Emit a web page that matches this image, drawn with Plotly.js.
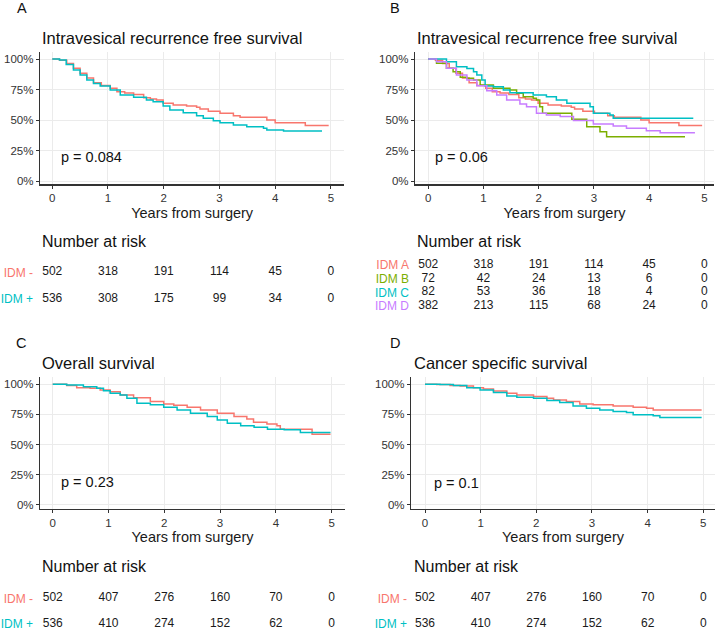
<!DOCTYPE html>
<html><head><meta charset="utf-8">
<script src="https://cdn.plot.ly/plotly-3.0.1.min.js"></script>
<style>html,body{margin:0;padding:0;background:#fff}</style>
</head><body><div id="chart" style="width:720px;height:631px"></div>
<script>
// ---------------- data ----------------
const riskTimes = [0, 1, 2, 3, 4, 5];
const twoGroups = ["IDM -", "IDM +"];
const fourGroups = ["IDM A", "IDM B", "IDM C", "IDM D"];
const panelTitles = ["Intravesical recurrence free survival", "Intravesical recurrence free survival", "Overall survival", "Cancer specific survival"];
const panelLetters = ["A", "B", "C", "D"];
const pValues = ["p = 0.084", "p = 0.06", "p = 0.23", "p = 0.1"];
const xTicks = [0, 1, 2, 3, 4, 5];
const yTicks = [0, 0.25, 0.5, 0.75, 1];
const yTickText = ["0%", "25%", "50%", "75%", "100%"];

// Panel A: intravesical recurrence free survival, IDM - / IDM +
const irfsNegT = [0, 0.13, 0.26, 0.38, 0.5, 0.62, 0.74, 0.88, 1.04, 1.16, 1.3, 1.46, 1.64, 1.76, 1.87, 1.99, 2.17, 2.41, 2.59, 2.65, 2.8, 3.01, 3.25, 3.37, 3.85, 4.0, 4.54, 4.96];
const irfsNegS = [1, 0.99, 0.964, 0.925, 0.883, 0.845, 0.806, 0.782, 0.76, 0.732, 0.722, 0.71, 0.683, 0.672, 0.664, 0.637, 0.623, 0.615, 0.604, 0.59, 0.572, 0.555, 0.535, 0.522, 0.5, 0.478, 0.456, 0.456];
const irfsPosT = [0, 0.13, 0.25, 0.38, 0.5, 0.62, 0.74, 0.86, 1.04, 1.22, 1.46, 1.69, 1.81, 1.99, 2.11, 2.35, 2.59, 2.71, 2.89, 3.01, 3.25, 3.49, 3.79, 3.85, 4.15, 4.84];
const irfsPosS = [1, 0.992, 0.955, 0.91, 0.87, 0.828, 0.8, 0.779, 0.746, 0.705, 0.686, 0.664, 0.65, 0.615, 0.582, 0.56, 0.535, 0.514, 0.494, 0.478, 0.459, 0.445, 0.432, 0.418, 0.41, 0.41];
const riskA_neg = [502, 318, 191, 114, 45, 0];
const riskA_pos = [536, 308, 175, 99, 34, 0];

// Panel B: IDM A (same as IDM -), B, C, D
const irfsBT = [0, 0.15, 0.33, 0.45, 0.58, 0.7, 0.82, 0.94, 1.18, 1.48, 1.6, 1.72, 1.9, 1.96, 2.02, 2.07, 2.6, 2.87, 3.11, 3.23, 4.65];
const irfsBS = [1, 0.965, 0.924, 0.896, 0.85, 0.842, 0.828, 0.787, 0.76, 0.746, 0.719, 0.691, 0.678, 0.664, 0.609, 0.555, 0.506, 0.445, 0.404, 0.363, 0.363];
const irfsCT = [0, 0.21, 0.33, 0.51, 0.7, 0.82, 0.88, 0.97, 1.03, 1.18, 1.36, 1.48, 1.9, 2.14, 2.32, 2.51, 2.93, 2.99, 3.29, 3.35, 4.8];
const irfsCS = [1, 1, 0.978, 0.937, 0.923, 0.896, 0.869, 0.828, 0.779, 0.773, 0.746, 0.724, 0.705, 0.691, 0.664, 0.637, 0.609, 0.555, 0.542, 0.514, 0.514];
const irfsDT = [0, 0.15, 0.33, 0.51, 0.7, 0.88, 1.06, 1.24, 1.42, 1.66, 1.78, 1.96, 2.14, 2.39, 2.63, 2.99, 3.35, 3.59, 3.95, 4.2, 4.83];
const irfsDS = [1, 0.978, 0.924, 0.869, 0.828, 0.78, 0.74, 0.705, 0.664, 0.631, 0.609, 0.555, 0.542, 0.528, 0.495, 0.467, 0.451, 0.432, 0.413, 0.396, 0.396];
const riskB_A = [502, 318, 191, 114, 45, 0];
const riskB_B = [72, 42, 24, 13, 6, 0];
const riskB_C = [82, 53, 36, 18, 4, 0];
const riskB_D = [382, 213, 115, 68, 24, 0];

// Panel C: overall survival
const osNegT = [0, 0.25, 0.43, 0.67, 0.85, 1.03, 1.21, 1.45, 1.75, 1.99, 2.17, 2.41, 2.65, 2.95, 3.25, 3.48, 3.6, 3.84, 4.02, 4.08, 4.65, 4.98];
const osNegS = [1, 0.989, 0.972, 0.967, 0.953, 0.939, 0.911, 0.889, 0.856, 0.837, 0.826, 0.809, 0.787, 0.76, 0.732, 0.712, 0.685, 0.671, 0.655, 0.627, 0.586, 0.586];
const osPosT = [0, 0.25, 0.55, 0.79, 0.91, 1.03, 1.21, 1.33, 1.51, 1.75, 1.99, 2.23, 2.47, 2.77, 2.95, 3.13, 3.37, 3.61, 3.85, 4.15, 4.44, 4.98];
const osPosS = [1, 0.994, 0.98, 0.967, 0.947, 0.925, 0.911, 0.884, 0.843, 0.829, 0.809, 0.787, 0.76, 0.732, 0.704, 0.677, 0.655, 0.644, 0.627, 0.622, 0.6, 0.6];
const riskC_neg = [502, 407, 276, 160, 70, 0];
const riskC_pos = [536, 410, 274, 152, 62, 0];

// Panel D: cancer specific survival
const cssNegT = [0, 0.21, 0.45, 0.63, 0.87, 1.05, 1.23, 1.47, 1.65, 1.95, 2.19, 2.31, 2.54, 2.78, 3.02, 3.38, 3.74, 3.98, 4.1, 4.97];
const cssNegS = [1, 0.998, 0.989, 0.986, 0.972, 0.961, 0.945, 0.925, 0.911, 0.898, 0.884, 0.87, 0.856, 0.837, 0.829, 0.82, 0.809, 0.8, 0.787, 0.787];
const cssPosT = [0, 0.27, 0.51, 0.75, 0.99, 1.23, 1.47, 1.65, 1.95, 2.19, 2.42, 2.66, 2.9, 3.14, 3.38, 3.62, 3.74, 4.1, 4.22, 4.97];
const cssPosS = [1, 0.998, 0.989, 0.972, 0.953, 0.931, 0.903, 0.892, 0.884, 0.865, 0.848, 0.82, 0.8, 0.787, 0.773, 0.765, 0.746, 0.738, 0.724, 0.724];
const riskD_neg = [502, 407, 276, 160, 70, 0];
const riskD_pos = [536, 410, 274, 152, 62, 0];

// ---------------- styling / layout ----------------
const W = 720, H = 631;
const FONT = "Liberation Sans, Arial, sans-serif";
const COL = {red: "#F8766D", green: "#7CAE00", cyan: "#00BFC4", purple: "#C77CFF"};
const px = v => v / W;
const py = v => 1 - v / H;

const traces = [];
function curve(t, s, color, n) {
  traces.push({type: "scatter", mode: "lines", x: t, y: s, line: {color: color, width: 1.5, shape: "hv"},
    xaxis: "x" + (n === 1 ? "" : n), yaxis: "y" + (n === 1 ? "" : n), hoverinfo: "skip", showlegend: false});
}
function riskRow(group, counts, n) {
  traces.push({type: "scatter", mode: "text", x: riskTimes, y: riskTimes.map(() => group), text: counts.map(String),
    textfont: {family: FONT, size: 12, color: "#1a1a1a"}, textposition: "middle center",
    xaxis: "x" + n, yaxis: "y" + n, hoverinfo: "skip", showlegend: false, cliponaxis: false});
}

curve(irfsNegT, irfsNegS, COL.red, 1);
curve(irfsPosT, irfsPosS, COL.cyan, 1);
curve(irfsNegT, irfsNegS, COL.red, 2);
curve(irfsBT, irfsBS, COL.green, 2);
curve(irfsCT, irfsCS, COL.cyan, 2);
curve(irfsDT, irfsDS, COL.purple, 2);
curve(osNegT, osNegS, COL.red, 3);
curve(osPosT, osPosS, COL.cyan, 3);
curve(cssNegT, cssNegS, COL.red, 4);
curve(cssPosT, cssPosS, COL.cyan, 4);

riskRow(twoGroups[0], riskA_neg, 5); riskRow(twoGroups[1], riskA_pos, 5);
riskRow(fourGroups[0], riskB_A, 6); riskRow(fourGroups[1], riskB_B, 6);
riskRow(fourGroups[2], riskB_C, 6); riskRow(fourGroups[3], riskB_D, 6);
riskRow(twoGroups[0], riskC_neg, 7); riskRow(twoGroups[1], riskC_pos, 7);
riskRow(twoGroups[0], riskD_neg, 8); riskRow(twoGroups[1], riskD_pos, 8);

// panel geometry (pixels)
const panels = [
  {l: 40, r: 344.3, t: 51.7, b: 184.3, xr: [-0.22, 5.24], yr: [-0.027, 1.06], titleX: 40, titleY: 37.7, letX: 21.7, letY: 8.3, pX: 0.12, pY: 0.2, narX: 40, narY: 241.7},
  {l: 415, r: 714, t: 51.7, b: 184.3, xr: [-0.24, 5.175], yr: [-0.027, 1.06], titleX: 415, titleY: 37.7, letX: 395, letY: 8.3, pX: 0.09, pY: 0.2, narX: 415, narY: 241.7},
  {l: 40, r: 345, t: 377.3, b: 508.5, xr: [-0.228, 5.24], yr: [-0.0316, 1.058], titleX: 40, titleY: 362.7, letX: 20.7, letY: 342.7, pX: 0.12, pY: 0.186, narX: 40, narY: 566.7},
  {l: 411, r: 715, t: 377.3, b: 508.5, xr: [-0.2515, 5.21], yr: [-0.0316, 1.058], titleX: 411.7, titleY: 362.7, letX: 395, letY: 342.7, pX: 0.12, pY: 0.178, narX: 412.3, narY: 566.7}
];
const riskGeo = [
  {groups: twoGroups, colors: [COL.red, COL.cyan], top: 258.8, bot: 312.6, first: 272.5, step: 26.5, stand: 6},
  {groups: fourGroups, colors: [COL.red, COL.green, COL.cyan, COL.purple], top: 258.8, bot: 312.6, first: 265.2, step: 13.6, stand: 5},
  {groups: twoGroups, colors: [COL.red, COL.cyan], top: 585.5, bot: 631, first: 598.3, step: 25.7, stand: 6},
  {groups: twoGroups, colors: [COL.red, COL.cyan], top: 585.5, bot: 631, first: 598.3, step: 25.7, stand: 3}
];

const layout = {
  width: W, height: H, margin: {l: 0, r: 0, t: 0, b: 0}, paper_bgcolor: "#fff", plot_bgcolor: "#fff",
  showlegend: false, font: {family: FONT, color: "#1a1a1a"}, annotations: []
};

panels.forEach((p, i) => {
  const n = i + 1, sfx = n === 1 ? "" : String(n);
  layout["xaxis" + sfx] = {
    domain: [px(p.l), px(p.r)], range: p.xr, anchor: "y" + sfx, tickvals: xTicks, ticks: "outside", ticklen: 3, tickwidth: 1,
    tickcolor: "#333", showline: true, linecolor: "#333", linewidth: 1.2, showgrid: true, gridcolor: "#EBEBEB", gridwidth: 1,
    zeroline: false, tickfont: {family: FONT, size: 11.5, color: "#333"}, automargin: false,
    title: {text: "Years from surgery", font: {family: FONT, size: 14.5, color: "#1a1a1a"}, standoff: 4}
  };
  layout["yaxis" + sfx] = {
    domain: [py(p.b), py(p.t)], range: p.yr, anchor: "x" + sfx, tickvals: yTicks, ticktext: yTickText, ticks: "outside", ticklen: 3,
    tickwidth: 1, tickcolor: "#333", showline: true, linecolor: "#333", linewidth: 1.2, showgrid: true, gridcolor: "#EBEBEB",
    gridwidth: 1, zeroline: false, tickfont: {family: FONT, size: 11.5, color: "#333"}, automargin: false
  };
  const rg = riskGeo[i], rn = String(n + 4);
  layout["xaxis" + rn] = {domain: [px(p.l), px(p.r)], range: p.xr, anchor: "y" + rn, visible: false, fixedrange: true};
  layout["yaxis" + rn] = {
    domain: [py(rg.bot), py(rg.top)], anchor: "x" + rn, type: "category", categoryarray: rg.groups,
    range: [(rg.bot - rg.first) / rg.step, (rg.top - rg.first) / rg.step],
    tickvals: rg.groups, ticktext: rg.groups.map((g, k) => '<span style="color:' + rg.colors[k] + '">' + g + '</span>'),
    ticks: "", showgrid: false, showline: false, zeroline: false, ticklabelstandoff: rg.stand,
    tickfont: {family: FONT, size: 12}, automargin: false
  };
  layout.annotations.push(
    {text: panelLetters[i], x: px(p.letX), y: py(p.letY), xref: "paper", yref: "paper", xanchor: "center", yanchor: "middle", showarrow: false, font: {family: FONT, size: 14.5, color: "#111"}},
    {text: panelTitles[i], x: px(p.titleX), y: py(p.titleY), xref: "paper", yref: "paper", xanchor: "left", yanchor: "middle", showarrow: false, font: {family: FONT, size: 16.5, color: "#111"}},
    {text: pValues[i], x: p.pX, y: p.pY, xref: "x" + sfx, yref: "y" + sfx, xanchor: "left", yanchor: "middle", showarrow: false, font: {family: FONT, size: 14.5, color: "#111"}},
    {text: "Number at risk", x: px(p.narX), y: py(p.narY), xref: "paper", yref: "paper", xanchor: "left", yanchor: "middle", showarrow: false, font: {family: FONT, size: 16, color: "#111"}}
  );
});

Plotly.newPlot("chart", traces, layout, {displayModeBar: false, staticPlot: true});
</script></body></html>
